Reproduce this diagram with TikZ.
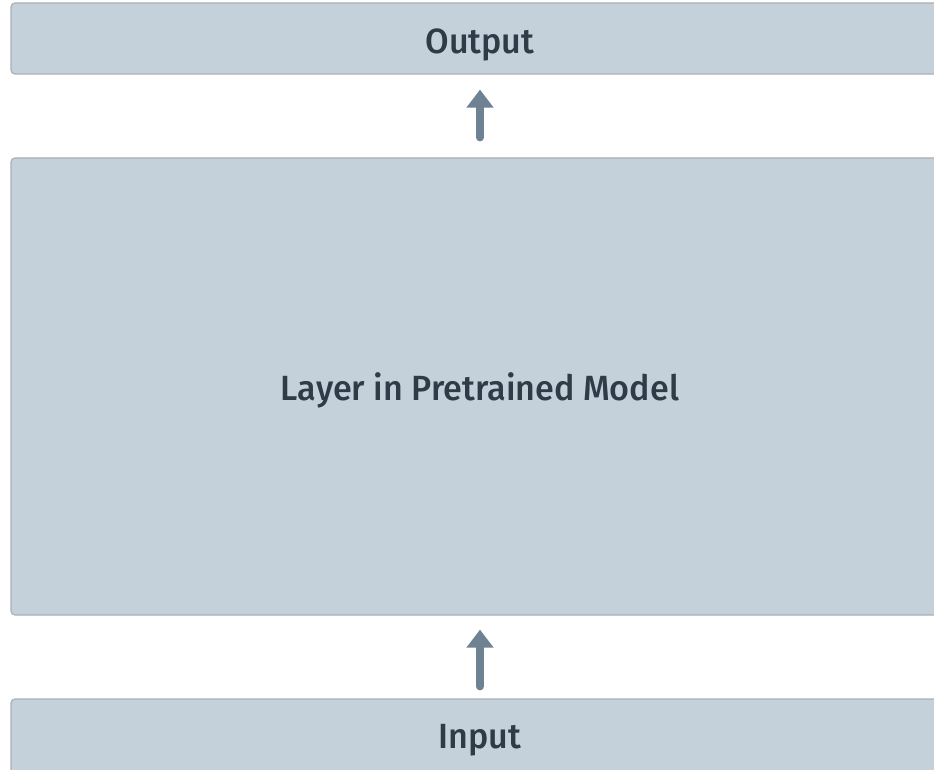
\documentclass[tikz,border=0pt]{standalone}
\usepackage{fontspec}
\setmainfont{Fira Sans}[UprightFont={* Medium}]
\usetikzlibrary{arrows.meta}
\definecolor{boxfill}{HTML}{C4D0DA}
\definecolor{boxline}{HTML}{A9B0B6}
\definecolor{arrowc}{HTML}{6E8294}
\definecolor{txt}{HTML}{2F3B46}
\newcommand{\boxtext}[2]{\raisebox{-#1}[0pt][0pt]{\scalebox{0.975}[1]{#2}}}
\tikzset{
  layerbox/.style={draw=boxline, line width=1.2pt, fill=boxfill, rounded corners=4pt,
    minimum width=938pt, text=txt, font=\fontsize{35}{40}\selectfont, inner sep=0pt},
  uparrow/.style={draw=arrowc, line width=8pt, line cap=round,
    -{Triangle[width=26pt,length=18pt]}}
}
\begin{document}
\begin{tikzpicture}[x=1pt,y=1pt]
\useasboundingbox (0,0) rectangle (934,-770);
\clip (0,0) rectangle (934,-770);
\fill[white] (0,0) rectangle (934,-770);
\node[layerbox, minimum height=71pt] (out) at (480,-38.5) {\boxtext{15pt}{Output}};
\node[layerbox, minimum height=457pt] (mid) at (480,-386.5) {\boxtext{14pt}{Layer in Pretrained Model}};
\node[layerbox, minimum height=78pt] (in) at (480,-738) {\boxtext{10pt}{Input}};
\draw[uparrow, shorten <=20pt, shorten >=15pt] (mid.north) -- (out.south);
\draw[uparrow, shorten <=12pt, shorten >=14pt] (in.north) -- (mid.south);
\end{tikzpicture}
\end{document}
